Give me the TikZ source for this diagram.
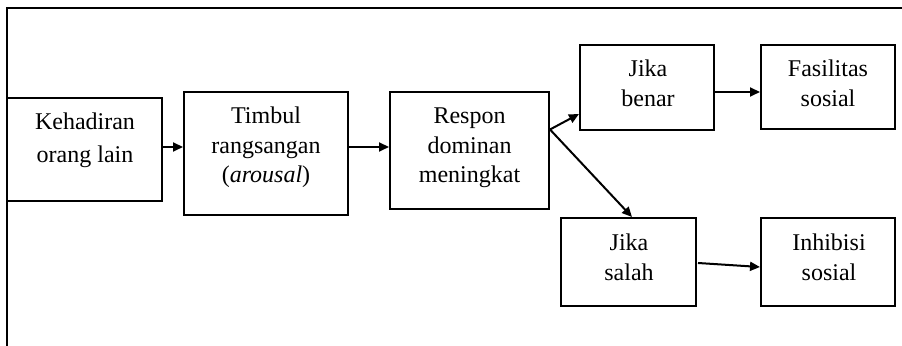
\documentclass[tikz,border=0pt]{standalone}
\usepackage{fontspec}
\setmainfont{Liberation Serif}
\usetikzlibrary{arrows.meta,calc}
\newcommand\tlines[1]{\begin{tabular}[t]{@{}c@{}}#1\end{tabular}}
\begin{document}
\begin{tikzpicture}[x=0.5pt,y=-0.5pt,
  box/.style={draw,line width=1pt,inner sep=0pt},
  txt/.style={inner sep=0pt,anchor=base,font=\fontsize{12pt}{14.75pt}\selectfont},
  arr/.style={line width=1pt,-{Triangle[length=5pt,width=4.5pt]}}]
\useasboundingbox (0,0) rectangle (902,346);
\draw[line width=1pt] (902,8) -- (7,8) -- (7,346);
\node[box,minimum width=77.5pt,minimum height=51.5pt] (keh) at (84.5,149.5) {};
\node[box,minimum width=82pt,minimum height=61.5pt] (tim) at (266,153.5) {};
\node[box,minimum width=79.5pt,minimum height=58.5pt] (res) at (469.5,150.5) {};
\node[box,minimum width=67pt,minimum height=42.5pt] (ben) at (647,87.5) {};
\node[box,minimum width=67pt,minimum height=42pt] (fas) at (828,87) {};
\node[box,minimum width=67.5pt,minimum height=44pt] (sal) at (628.5,262) {};
\node[box,minimum width=67pt,minimum height=44pt] (inh) at (828,262) {};
\node[txt,font=\fontsize{12pt}{16.5pt}\selectfont] (kehtxt) at (85,130) {\tlines{Kehadiran\\orang lain}};
\node[txt] (timtxt) at (266,124) {\tlines{Timbul\\rangsangan\\(\textit{arousal})}};
\node[txt] (restxt) at (469.5,124) {\tlines{Respon\\dominan\\meningkat}};
\node[txt] (bentxt) at (648,77) {\tlines{Jika\\benar}};
\node[txt] (fastxt) at (828,77) {\tlines{Fasilitas\\sosial}};
\node[txt] (saltxt) at (629,251) {\tlines{Jika\\salah}};
\node[txt] (inhtxt) at (829,251) {\tlines{Inhibisi\\sosial}};
\coordinate (rs) at ($(res.east)+(0,-21)$);
\draw[arr] ($(keh.east)+(0,-2.5)$) -- ($(tim.west)+(0,-6.5)$);
\draw[arr] ($(tim.east)+(0,-6.5)$) -- ($(res.west)+(0,-3.5)$);
\draw[arr] (rs) -- ($(ben.west)+(0,26.5)$);
\draw[arr] (rs) -- ($(sal.north)+(3.5,0)$);
\draw[arr] ($(ben.east)+(0,4.5)$) -- ($(fas.west)+(0,5)$);
\draw[arr] ($(sal.east)+(1,1)$) -- ($(inh.west)+(0,5)$);
\end{tikzpicture}
\end{document}
